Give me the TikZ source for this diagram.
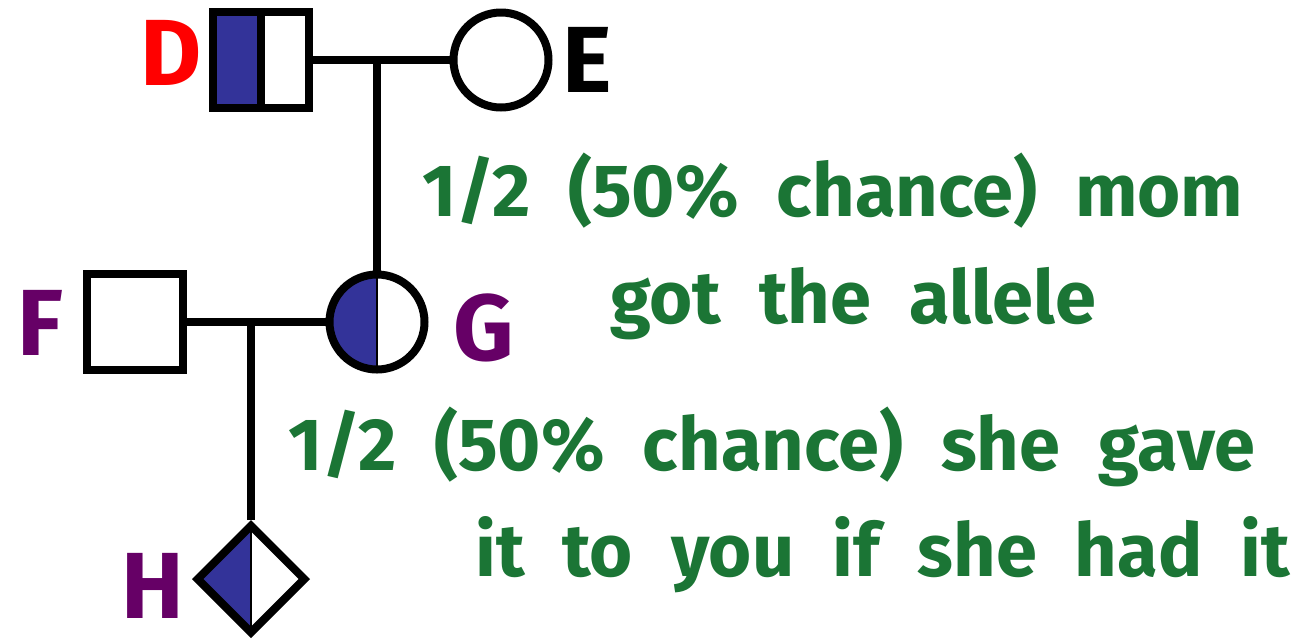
\documentclass[tikz,border=0pt]{standalone}
\usepackage{fontspec}
\setmainfont{Fira Sans}
\usepackage{tikz}
\usetikzlibrary{shapes.geometric, positioning}
\definecolor{AffBlue}{HTML}{333399}
\definecolor{NoteGreen}{HTML}{1B7535}
\definecolor{KinPurple}{HTML}{660066}
\definecolor{KinRed}{HTML}{FF0000}

\begin{document}
\begin{tikzpicture}[x=1pt, y=-1pt,
  male_node/.style={rectangle, draw, line width=8pt, fill=white, minimum size=96pt, inner sep=0pt},
  female_node/.style={circle, draw, line width=8pt, fill=white, minimum size=95pt, inner sep=0pt},
  unknown_node/.style={diamond, draw, line width=8pt, fill=white, minimum width=110pt, minimum height=110pt, inner sep=0pt},
  half_left/.style={path picture={\fill[AffBlue] (path picture bounding box.north west) rectangle (path picture bounding box.south);
    \draw[line width=1.2pt] (path picture bounding box.north) -- (path picture bounding box.south);}},
  link/.style={line width=8pt},
  id_label/.style={font=\bfseries\fontsize{94}{100}\selectfont, inner sep=0pt, anchor=base},
  note_label/.style={font={\bfseries\fontsize{74}{80}\selectfont\spaceskip=38pt\relax}, text=NoteGreen, inner sep=0pt, anchor=base west}
]
  \useasboundingbox (0,0) rectangle (1301,641);

  % generation 1
  \node[male_node] (D) at (260.5,60) {};
  \fill[AffBlue] (D.north west) rectangle (D.south);
  \draw[line width=8pt] (D.north) -- (D.south);
  \node[male_node, fill=none] at (D) {};
  \node[female_node] (E) at (501,60) {};

  % generation 2
  \node[male_node] (F) at (135,322) {};
  \node[female_node, half_left] (G) at (377,322) {};

  % generation 3
  \node[unknown_node, half_left] (H) at (251,579) {};

  \draw[link] (D.east) -- (E.west);
  \draw[link] (G.north) -- (G.north |- D.east);
  \draw[link] (F.east) -- (G.west);
  \draw[link] (H.north) -- (H.north |- F.east);

  \node[id_label, text=KinRed] (Dl) at (171,85) {D};
  \node[id_label] (El) at (587,92) {E};
  \node[id_label, text=KinPurple] (Fl) at (40,355) {F};
  \node[id_label, text=KinPurple] (Gl) at (484,360) {G};
  \node[id_label, text=KinPurple] (Hl) at (153,618) {H};

  \node[note_label] (n1) at (422,216) {1/2 (50\% chance) mom};
  \node[note_label] (n2) at (610,323) {got the allele};
  \node[note_label] (n3) at (288,470) {1/2 (50\% chance) she gave};
  \node[note_label] (n4) at (475,576) {it to you if she had it};
\end{tikzpicture}
\end{document}
